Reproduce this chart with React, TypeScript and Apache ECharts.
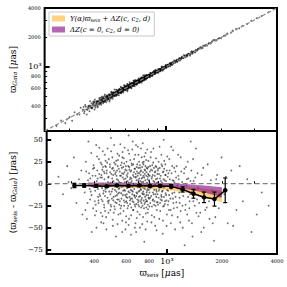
import React, { useEffect, useRef } from "react";
import * as echarts from "echarts";

// scatter: [varpi_seis (μas), varpi_seis - varpi_Gaia (μas)]
const scatterPoints: [number, number][] = [
  [255, 8], [270, -12], [285, 20], [290, 2], [300, -5], [310, 30], [320, -22], [330, 5], [340, 15], [345, -35],
  [355, -10], [358, -30], [360, 25], [365, -40], [370, 4], [372, 48], [375, 12], [378, -6], [380, -18], [385, 35],
  [388, -55], [390, -3], [392, 9], [395, -28], [400, 18], [402, -1], [405, -8], [408, -24], [410, 44], [412, -50],
  [415, 31], [418, 6], [420, -15], [425, 28], [428, -12], [430, -2], [435, -33], [438, 10], [440, 22], [442, -5],
  [445, -20], [446, 37], [448, 0], [450, -45], [452, 14],
  [455, 5], [458, -14], [462, 26], [465, -38], [466, -2], [468, 12], [470, -4], [474, 40], [478, -22], [480, 8],
  [482, -19], [484, -9], [488, 19], [490, -30], [494, 52], [497, 11], [498, -2], [500, -17], [503, 30], [506, -48],
  [510, 3], [512, -33], [513, 15], [516, -26], [520, -7], [523, 22], [526, -60], [528, 26], [530, 9], [533, -13],
  [536, 34], [540, -1], [543, -35], [544, -6], [546, 17], [550, -5], [553, -20], [556, 45], [558, -28], [560, 1],
  [563, -11], [566, 24], [570, -42], [572, 36], [573, 7], [576, -3], [580, 29], [583, -25], [586, 13], [588, 2],
  [590, -8], [593, -52], [596, 20], [598, -37], [599, -15],
  [603, 10], [606, -22], [610, 3], [613, 38], [616, -9], [618, 55], [620, -40], [623, 16], [626, -2], [630, 27],
  [633, -17], [636, -58], [640, 6], [643, 21], [646, -12], [648, -4], [650, 48], [653, -30], [656, 0], [660, 13],
  [663, -6], [666, -24], [670, 33], [673, -45], [676, 8], [678, -55], [680, -14], [683, 19], [686, -3], [690, -32],
  [693, 42], [696, 4], [700, -19], [702, 1], [704, 25], [708, -8], [712, -50], [716, 14], [720, -1], [724, -27],
  [728, 30], [732, -11], [736, 7], [738, 46], [740, -38], [744, 22], [748, -5], [752, -66], [756, 11], [760, -21],
  [764, 35], [766, -34], [768, -2], [772, -13], [776, 18], [780, -43], [784, 5], [788, -29], [792, 26], [796, -7],
  [805, 9], [810, -16], [815, 30], [820, -4], [826, -36], [832, 15], [838, -10], [844, 40], [850, -24], [856, 2],
  [862, -48], [868, 20], [874, -7], [880, -30], [886, 11], [892, -2], [900, 25], [908, -40], [916, 6], [924, -18],
  [932, 33], [940, -9], [948, -57], [956, 14], [960, 50], [964, -25], [972, 4], [980, 22], [990, -13], [1000, -35],
  [1010, 8], [1020, -20], [1030, 28], [1040, -3], [1050, -45], [1060, 12], [1070, -11], [1080, 38], [1090, -28], [1100, 1],
  [1115, -15], [1130, 20], [1145, -38], [1160, 5], [1175, -22], [1190, 30], [1205, -8], [1220, -50], [1240, 12], [1250, -70],
  [1260, -30], [1280, -2], [1300, 25], [1320, -42], [1340, -12], [1350, 48], [1360, 15], [1380, -60], [1400, 3], [1420, -25],
  [1440, 40], [1460, -18], [1480, -5],
  [1520, -33], [1550, 10], [1590, -50], [1630, -15], [1670, 22], [1710, -40], [1760, -8], [1810, -65], [1860, 5], [1920, -28],
  [1990, 30], [2060, -12], [2150, -45], [2250, 15], [2400, -30],
  [2600, -20], [2750, 5], [2900, -55], [3100, -35], [3300, -10],
];

const scatterPointsDense: [number, number][] = [
  [362, 14], [368, -22], [383, -9], [397, 21], [404, -36], [413, 3], [422, -19], [427, 41], [433, 7], [437, -44],
  [443, 16], [449, -11], [454, -27], [457, 33], [461, -6], [464, 19], [467, -52], [471, 24], [473, -16], [476, 2],
  [479, -33], [481, 28], [486, -1], [489, 13], [492, -24], [495, 37], [499, -9], [502, 6], [505, -41], [507, 18],
  [509, -19], [514, 44], [517, -3], [519, -29], [521, 11], [524, -14], [527, 0], [531, -22], [534, 15], [537, -46],
  [539, 27], [541, 4], [545, -18], [548, 32], [551, -10], [554, 9], [557, -34], [559, 21], [562, -25], [565, -4],
  [568, 12], [569, -55], [571, 30], [574, -13], [577, 19], [579, -31], [582, 5], [585, -7], [587, 41], [589, -21],
  [592, 16], [595, -2], [597, -44], [601, 25], [604, -12], [607, 8], [609, -28], [612, -3], [615, 20], [617, -47],
  [621, 34], [624, -15], [627, 5], [629, -23], [632, 14], [635, 1], [637, -36], [641, 23], [644, -8], [647, 39],
  [649, -20], [652, 10], [655, -30], [658, -1], [661, 28], [664, -14], [667, -50], [669, 17], [672, -26], [675, 7],
  [677, 44], [681, -10], [684, -39], [688, 22], [691, -4], [694, 12], [697, -24], [699, 33], [703, -15], [706, 6],
  [710, -35], [713, 18], [717, -6], [721, 40], [725, -18], [729, 2], [733, -46], [737, 24], [741, -12], [745, 9],
  [749, -28], [753, 31], [757, -3], [761, 15], [765, -52], [769, 27], [773, -20], [777, -8], [781, 39], [785, -33],
  [789, 11], [793, -16], [797, 3], [802, -26], [808, 20], [812, -5], [818, 36], [823, -44], [829, 8], [835, -19],
  [841, 24], [847, -2], [853, -38], [859, 13], [865, -12], [871, 29], [877, -53], [883, 1], [889, -21], [895, 17],
  [903, -8], [911, 42], [919, -31], [927, 3], [935, -15], [943, 20], [951, -42], [959, -5], [967, 26], [975, -20],
  [985, 10], [995, -48], [1005, 31], [1015, -8], [1025, -30], [1035, 15], [1045, -17], [1055, 42], [1065, -36], [1075, 4],
  [1085, -22], [1095, 18], [1108, -52], [1122, 7], [1138, -27], [1152, 33], [1168, -10], [1183, -44], [1198, 14], [1215, -25],
  [1232, -4], [1270, 19], [1290, -35], [1310, 6], [1330, -20], [1370, -45], [1390, 28], [1410, -8], [1450, -33], [1470, 12],
  [1500, -22], [1540, -55], [1580, 18], [1650, -27], [1740, 4], [1840, -38], [1950, -15], [2100, 8], [2300, -48], [2500, 20],
  [3600, -25],
];

const scatterPointsCore: [number, number][] = [
  [381, 6], [387, -13], [394, 17], [399, -4], [403, -20], [407, 9], [411, -31], [416, 15], [419, -6], [423, -22],
  [426, 11], [431, -14], [434, 24], [436, -3], [439, -18], [441, 7], [444, -37], [447, 19], [451, -8], [453, -24],
  [456, 12], [459, -31], [460, 20], [463, -9], [469, 15], [475, -20], [477, 7], [483, -3], [487, 22], [491, -12],
  [493, 1], [496, -26], [501, 17], [504, -6], [508, 10], [511, -15], [515, 24], [518, -1], [522, -21], [525, 13],
  [529, -9], [532, 5], [535, -18], [538, 20], [542, -11], [547, 2], [549, -24], [552, 14], [555, -2], [561, 9],
  [564, -17], [567, 18], [575, -8], [578, 11], [581, -19], [584, 23], [591, -13], [594, 6], [600, -20], [602, 15],
  [605, -5], [608, -16], [611, 12], [614, -25], [619, 1], [622, 19], [625, -10], [628, -19], [631, 7], [634, -7],
  [638, 15], [639, -27], [642, 3], [645, -17], [651, -9], [654, 22], [657, -21], [659, 8], [662, -13], [665, 17],
  [668, -2], [671, -16], [674, 11], [679, -23], [682, 4], [685, 14], [687, -11], [689, -18], [692, 9], [695, -21],
  [698, 18], [701, -9], [705, -26], [707, 12], [709, -1], [711, 21], [714, -14], [715, 3], [718, -20], [719, 10],
  [722, -7], [723, 15], [726, -22], [727, 6], [730, -16], [731, 19], [734, -4], [735, -25], [739, 13], [742, -9],
  [743, 2], [746, -19], [747, 25], [750, -12], [751, 7], [754, -23], [755, 16], [758, -6], [759, -15], [762, 4],
  [763, 20], [767, -18], [770, 9], [771, -27], [774, 13], [775, -10], [778, 1], [779, -20], [782, 17], [783, -6],
  [786, 8], [787, -24], [790, -13], [791, 19], [794, -3], [795, 10], [798, -17], [800, 4], [803, -10], [807, 14],
  [811, -22], [814, 0], [817, 16], [821, -14], [825, 6], [828, -26], [831, 21], [834, -4], [837, 10], [840, -18],
  [843, 3], [846, -12], [849, 18], [852, -7], [855, -20], [858, 9], [861, -1], [864, 14], [867, -25], [870, 5],
  [873, -15], [876, 19], [879, -9], [882, -21], [885, 6], [888, -12], [891, 15], [894, -24], [897, 2], [901, -16],
  [905, 11], [909, -6], [913, 18], [917, -22], [921, -3], [925, 9], [930, -13], [934, 22], [938, -19], [942, 1],
  [946, -8], [950, 13], [954, -26], [958, 5], [962, -15], [966, 17], [970, -4], [974, -23], [978, 10], [983, -11],
  [988, 3], [993, -19], [998, 15], [1003, -7], [1012, -24], [1018, 12], [1028, -13], [1038, 5], [1048, -30], [1058, -6],
  [1068, 20], [1078, -17], [1088, 3], [1098, -10], [1112, 14], [1126, -21], [1142, -2], [1156, 9], [1172, -16], [1188, -31],
  [1210, 2], [1228, -14], [1246, 17], [1265, -24], [1285, 5], [1305, -15], [1325, -28], [1345, 3], [1365, -9], [1395, -20],
  [1430, 7], [1490, -37], [1560, -10], [1620, -30], [1700, -20], [1780, -45], [1880, 10],
];

// binned means
const binSeis = [312, 353, 411, 468, 533, 617, 707, 807, 920, 1055, 1219, 1397, 1596, 1820, 2084];
const binResid = [-2, -2, -2.5, -3, -2, -2.5, -2, -2.5, -2.5, -3, -6.5, -11.5, -15.5, -17.5, -7.5];
const binErr = [2.5, 2, 1.5, 1.2, 1, 1, 1, 1.2, 1.5, 2, 3, 5, 6, 8, 14];

// model bands
const bandSeis = [370, 500, 700, 1000, 1300, 1600, 2000];
const fullHigh = [-0.5, -0.8, -1.3, -2, -3.5, -5.5, -8];
const fullLow = [-3.5, -4, -5, -7, -10.5, -15, -21];
const zpHigh = [1.5, 1.5, 1.2, 0.8, -0.5, -2, -4];
const zpLow = [-2, -2.2, -2.8, -3.8, -6.5, -10, -15.5];

// axes
const xMin = 220, xMax = 4000;
const yTopMin = 220, yTopMax = 4000;
const resMin = -80, resMax = 60;
const minorTicks = [300, 400, 500, 600, 700, 800, 900, 2000, 3000, 4000];
const minorLabels = [400, 600, 800, 2000, 4000];
const majorTicks = [1000];
const resTicks = [-75, -50, -25, 0, 25, 50];

const L = Math.log10;
const SERIF = "DejaVu Serif";
const ORANGE = "rgba(255,165,0,0.5)";
const PURPLE = "rgba(128,0,128,0.6)";

const subRich = {
  g: { fontFamily: SERIF, fontSize: 9, color: "#000" },
  gi: { fontFamily: SERIF, fontSize: 9, fontStyle: "italic", color: "#000" },
  s: { fontFamily: SERIF, fontSize: 6, fontStyle: "italic", color: "#000", verticalAlign: "bottom" },
};

function minorAxis(gridIndex: number, min: number, max: number, showLabels: boolean, position: string, extra: any = {}) {
  return {
    gridIndex,
    position,
    offset: 0,
    type: "value",
    min: L(min),
    max: L(max),
    axisLine: { show: false },
    splitLine: { show: false },
    axisTick: { inside: true, length: 2.5, lineStyle: { width: 1, color: "#000" }, customValues: minorTicks.map(L) },
    axisLabel: {
      show: showLabels,
      customValues: minorLabels.map(L),
      formatter: (v: number) => String(Math.round(Math.pow(10, v))),
      fontFamily: SERIF,
      fontSize: 5,
      color: "#000",
      margin: 4,
    },
    ...extra,
  };
}

function majorAxis(gridIndex: number, min: number, max: number, showLabels: boolean, position: string, extra: any = {}) {
  return {
    gridIndex,
    position,
    offset: 0,
    type: "value",
    min: L(min),
    max: L(max),
    axisLine: { show: false },
    splitLine: { show: false },
    axisTick: { inside: true, length: 5, lineStyle: { width: 2, color: "#000" }, customValues: majorTicks.map(L) },
    axisLabel: {
      show: showLabels,
      customValues: majorTicks.map(L),
      formatter: () => "10³",
      fontFamily: SERIF,
      fontSize: 8,
      color: "#000",
      margin: 3,
    },
    ...extra,
  };
}

export default function App() {
  const ref = useRef<HTMLDivElement>(null);
  useEffect(() => {
    if (!ref.current) return;
    const chart = echarts.init(ref.current, null, { renderer: "svg" });

    const allPoints = scatterPoints.concat(scatterPointsDense, scatterPointsCore);

    const bandSeries = (name: string, hi: number[], lo: number[], color: string) => ({
      type: "custom",
      name,
      xAxisIndex: 2,
      yAxisIndex: 2,
      itemStyle: { color },
      data: [[L(bandSeis[0]), hi[0]]],
      z: 3,
      renderItem: (_p: any, api: any) => {
        const pts: number[][] = [];
        bandSeis.forEach((x, i) => pts.push(api.coord([L(x), hi[i]])));
        for (let i = bandSeis.length - 1; i >= 0; i--) pts.push(api.coord([L(bandSeis[i]), lo[i]]));
        return { type: "polygon", shape: { points: pts }, style: { fill: color } };
      },
    });

    const option: any = {
      animation: false,
      backgroundColor: "#fff",
      grid: [
        { left: 41, top: 8, width: 236, height: 123, show: true, borderColor: "#000", borderWidth: 2, backgroundColor: "transparent" },
        { left: 41, top: 131, width: 236, height: 123, show: true, borderColor: "#000", borderWidth: 2, backgroundColor: "transparent" },
      ],
      legend: {
        left: 49,
        top: 12,
        orient: "vertical",
        icon: "rect",
        itemWidth: 13,
        itemHeight: 6,
        itemGap: 4,
        padding: [3, 4, 3, 3],
        borderColor: "#c8c8c8",
        borderWidth: 1,
        backgroundColor: "#fff",
        selectedMode: false,
        data: [
          { name: "full", itemStyle: { color: ORANGE } },
          { name: "zp", itemStyle: { color: PURPLE } },
        ],
        formatter: (name: string) =>
          name === "full"
            ? "{i|Y(α)ϖ}{s|seis}{i| + ΔZ(c, c}{s|2}{i|, d)}"
            : "{i|ΔZ(c = 0, c}{s|2}{i|, d = 0)}",
        textStyle: {
          rich: {
            i: { fontFamily: SERIF, fontSize: 7, fontStyle: "italic", color: "#000" },
            s: { fontFamily: SERIF, fontSize: 5, fontStyle: "italic", color: "#000", verticalAlign: "bottom" },
          },
        },
      },
      xAxis: [
        minorAxis(0, xMin, xMax, false, "bottom"),
        majorAxis(0, xMin, xMax, false, "bottom"),
        minorAxis(1, xMin, xMax, true, "bottom"),
        majorAxis(1, xMin, xMax, true, "bottom", {
          name: "{g|ϖ}{s|seis}{g| [}{gi|μ}{g|as]}",
          nameLocation: "middle",
          nameGap: 14,
          nameTextStyle: { rich: subRich },
        }),
      ],
      yAxis: [
        minorAxis(0, yTopMin, yTopMax, true, "left", {
          name: "{g|ϖ}{s|Gaia}{g| [}{gi|μ}{g|as]}",
          nameLocation: "middle",
          nameRotate: 90,
          nameGap: 17,
          nameTextStyle: { rich: subRich },
        }),
        majorAxis(0, yTopMin, yTopMax, true, "left"),
        {
          gridIndex: 1,
          position: "left",
          type: "value",
          min: resMin,
          max: resMax,
          axisLine: { show: false },
          splitLine: { show: false },
          axisTick: { inside: true, length: 4.5, lineStyle: { width: 2, color: "#000" }, customValues: resTicks },
          axisLabel: {
            customValues: resTicks,
            formatter: (v: number) => (v < 0 ? "−" + Math.abs(v) : String(v)),
            fontFamily: SERIF,
            fontSize: 7,
            color: "#000",
            margin: 4,
          },
          name: "{g|(ϖ}{s|seis}{g| - ϖ}{s|Gaia}{g|) [}{gi|μ}{g|as]}",
          nameLocation: "middle",
          nameRotate: 90,
          nameGap: 23,
          nameTextStyle: { rich: subRich },
        },
      ],
      series: [
        {
          type: "scatter",
          xAxisIndex: 0,
          yAxisIndex: 0,
          symbolSize: 1.8,
          itemStyle: { color: "rgba(0,0,0,0.75)" },
          data: allPoints.map(([s, r]) => [L(s), L(s - r)]),
          z: 2,
        },
        {
          type: "line",
          xAxisIndex: 0,
          yAxisIndex: 0,
          symbol: "none",
          lineStyle: { color: "#888", width: 1.2, type: [4, 2] },
          data: [[L(xMin), L(xMin)], [L(xMax), L(xMax)]],
          z: 3,
        },
        {
          type: "scatter",
          xAxisIndex: 2,
          yAxisIndex: 2,
          symbolSize: 1.8,
          itemStyle: { color: "rgba(0,0,0,0.7)" },
          data: allPoints.map(([s, r]) => [L(s), r]),
          z: 2,
        },
        {
          type: "line",
          xAxisIndex: 2,
          yAxisIndex: 2,
          symbol: "none",
          lineStyle: { color: "#808080", width: 1.2, type: [5, 3] },
          data: [[L(xMin), 0], [L(xMax), 0]],
          z: 3,
        },
        bandSeries("full", fullHigh, fullLow, ORANGE),
        bandSeries("zp", zpHigh, zpLow, PURPLE),
        {
          type: "line",
          xAxisIndex: 2,
          yAxisIndex: 2,
          symbol: "circle",
          symbolSize: 4.5,
          itemStyle: { color: "#000" },
          lineStyle: { color: "#000", width: 1.5 },
          data: binSeis.map((x, i) => [L(x), binResid[i]]),
          z: 6,
        },
        {
          type: "custom",
          xAxisIndex: 2,
          yAxisIndex: 2,
          z: 6,
          data: binSeis.map((x, i) => [L(x), binResid[i], binErr[i]]),
          encode: { x: 0, y: 1 },
          renderItem: (_p: any, api: any) => {
            const x = api.value(0), y = api.value(1), e = api.value(2);
            const t = api.coord([x, y + e]);
            const b = api.coord([x, y - e]);
            const cap = 2;
            const st = { stroke: "#000", lineWidth: 1.2 };
            return {
              type: "group",
              children: [
                { type: "line", shape: { x1: t[0], y1: t[1], x2: b[0], y2: b[1] }, style: st },
                { type: "line", shape: { x1: t[0] - cap, y1: t[1], x2: t[0] + cap, y2: t[1] }, style: st },
                { type: "line", shape: { x1: b[0] - cap, y1: b[1], x2: b[0] + cap, y2: b[1] }, style: st },
              ],
            };
          },
        },
      ],
    };
    chart.setOption(option);
    return () => chart.dispose();
  }, []);
  return <div ref={ref} style={{ position: "fixed", left: 0, top: 0, width: 287, height: 287 }} />;
}
